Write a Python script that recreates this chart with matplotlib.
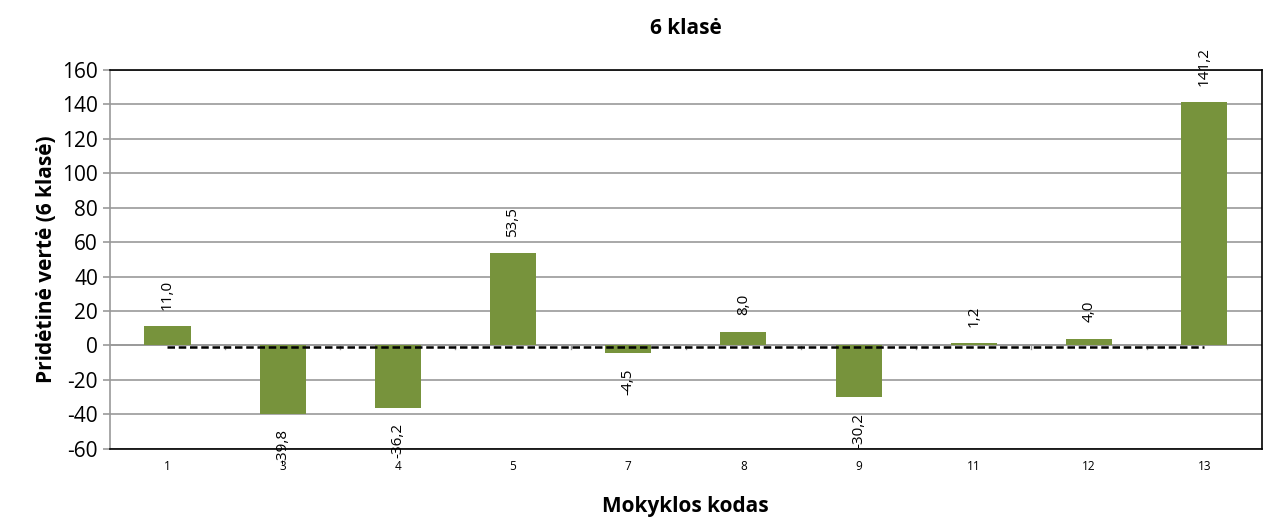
import numpy as np
import matplotlib.pyplot as plt

plt.rcParams['font.family'] = ['Open Sans', 'DejaVu Sans']
plt.rcParams['axes.unicode_minus'] = False

# duomenys
kodai = ['1', '3', '4', '5', '7', '8', '9', '11', '12', '13']
verte = [11.0, -39.8, -36.2, 53.5, -4.5, 8.0, -30.2, 1.2, 4.0, 141.2]

x = np.arange(len(kodai))

fig = plt.figure(figsize=(12.63, 5.17), dpi=100)
ax = fig.add_axes([0.087, 0.132, 0.912, 0.733])

ax.set_ylim(-60, 160)
ax.set_xlim(-0.5, len(kodai) - 0.5)
ax.set_yticks(np.arange(-60, 161, 20))
ax.grid(axis='y', color='#999999', linewidth=1.2)
ax.set_axisbelow(True)

ax.bar(x, verte, width=0.4, color='#77933C', zorder=2)

# x ašis ties nuliu
ax.axhline(0, color='#999999', linewidth=1.2, zorder=1)
for b in np.arange(0.5, len(kodai) - 0.5):
    ax.plot([b, b], [0, -2], color='#999999', linewidth=1, zorder=1)

# vidurkio linija
ax.plot([x[0], x[-1]], [-1, -1], color='black', linestyle='--', linewidth=1.8,
        dashes=(3, 1.5), zorder=3)

# reikšmių etiketės
for xi, v in zip(x, verte):
    txt = f'{v:.1f}'.replace('.', ',')
    if v >= 0:
        ax.annotate(txt, (xi, v), xytext=(0, 12), textcoords='offset points',
                    rotation=90, ha='center', va='bottom', fontsize=11)
    else:
        ax.annotate(txt, (xi, v), xytext=(0, -11), textcoords='offset points',
                    rotation=90, ha='center', va='top', fontsize=11)

ax.set_xticks(x)
ax.set_xticklabels(kodai, fontsize=8.5)
ax.tick_params(axis='x', length=0, pad=8)
ax.tick_params(axis='y', labelsize=15, color='#999999', length=5, width=1.2)

for s in ['top', 'right', 'bottom']:
    ax.spines[s].set_color('black')
    ax.spines[s].set_linewidth(1.2)
ax.spines['left'].set_color('#999999')
ax.spines['left'].set_linewidth(1.2)

ax.set_title('6 klasė', fontsize=15, fontweight='bold', pad=26)
ax.set_xlabel('Mokyklos kodas', fontsize=15, fontweight='bold', labelpad=17)
ax.set_ylabel('Pridėtinė vertė (6 klasė)', fontsize=15, fontweight='bold', labelpad=4)

fig.savefig('out.png', dpi=100)
